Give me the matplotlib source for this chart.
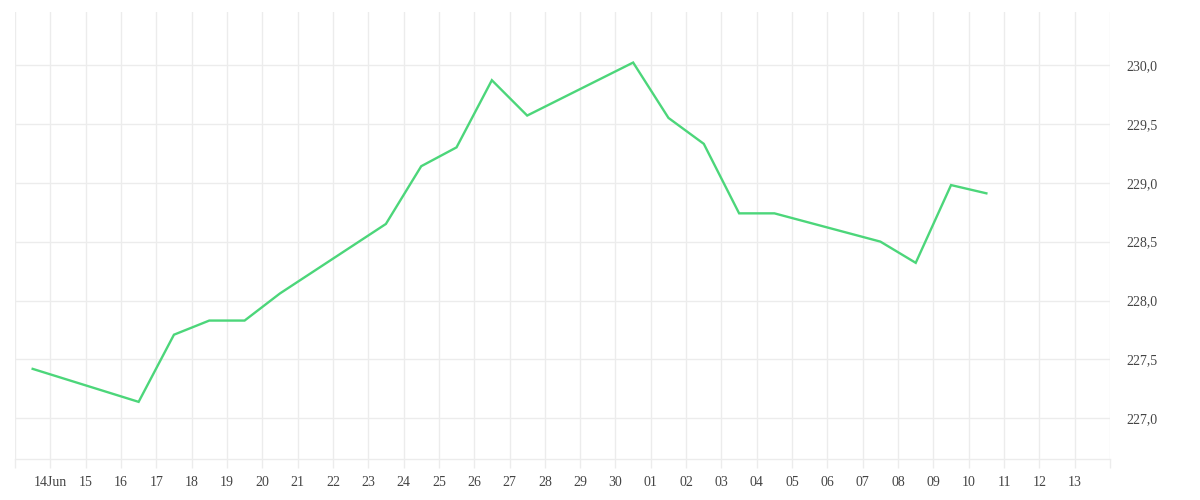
import matplotlib
matplotlib.use("Agg")
import matplotlib.pyplot as plt
import matplotlib.dates as mdates
from matplotlib.ticker import FixedLocator, FuncFormatter
import numpy as np
from datetime import datetime, timedelta

# --- data (points sit at mid-day) ---
dates = ["2024-06-13", "2024-06-16", "2024-06-17", "2024-06-18", "2024-06-19",
         "2024-06-20", "2024-06-23", "2024-06-24", "2024-06-25", "2024-06-26",
         "2024-06-27", "2024-06-30", "2024-07-01", "2024-07-02", "2024-07-03",
         "2024-07-04", "2024-07-07", "2024-07-08", "2024-07-09", "2024-07-10"]
prices = [227.42, 227.14, 227.71, 227.83, 227.83,
          228.06, 228.65, 229.14, 229.30, 229.87,
          229.57, 230.02, 229.55, 229.33, 228.74,
          228.74, 228.50, 228.32, 228.98, 228.91]
y_ticks = [227.0, 227.5, 228.0, 228.5, 229.0, 229.5, 230.0]

LINE = "#4cd67a"; GRID = "#ececec"; TXT = "#444444"
plt.rcParams['font.family'] = ['Liberation Serif', 'DejaVu Serif']

x = [datetime.strptime(d, "%Y-%m-%d") + timedelta(hours=12) for d in dates]
x_start = datetime(2024, 6, 13); x_end = datetime(2024, 7, 14)
day_ticks = [x_start + timedelta(days=i) for i in range((x_end - x_start).days + 1)]

fig = plt.figure(figsize=(12, 5), dpi=100)
ax = fig.add_axes([15/1200, 1 - 459/500, (1110 - 15)/1200, (459 - 12)/500])

ax.plot(x, prices, color=LINE, linewidth=1.7, solid_joinstyle='miter', zorder=3)

ax.set_xlim(x_start, x_end)
ax.set_ylim(226.655, 230.449)

# x axis: one tick per day, labels only for the inner days
ax.xaxis.set_major_locator(FixedLocator(mdates.date2num(day_ticks)))
def fmt_day(v, pos):
    d = mdates.num2date(v).replace(tzinfo=None)
    if d <= x_start or d >= x_end: return ""
    if d.day == 14 and d.month == 6: return "14Jun"
    return d.strftime("%d")
ax.xaxis.set_major_formatter(FuncFormatter(fmt_day))

ax.yaxis.tick_right()
ax.set_yticks(y_ticks)
ax.yaxis.set_major_formatter(FuncFormatter(lambda v, p: f"{v:.1f}".replace(".", ",")))

ax.grid(True, color=GRID, linewidth=1, zorder=0)
ax.tick_params(axis='x', length=6.5, width=1, color=GRID, pad=6, labelsize=10, labelcolor=TXT)
ax.tick_params(axis='y', length=0, pad=12, labelsize=10, labelcolor=TXT)
for s in ['top', 'left', 'right']: ax.spines[s].set_visible(False)
ax.spines['bottom'].set_color(GRID); ax.spines['bottom'].set_linewidth(1)

fig.savefig("out.png", dpi=100, facecolor="white")
